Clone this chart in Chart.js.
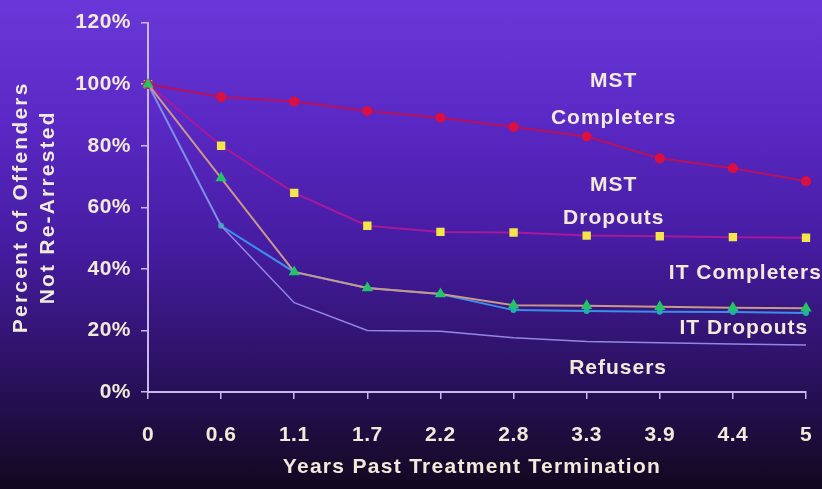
<!DOCTYPE html>
<html>
<head>
<meta charset="utf-8">
<script src="https://cdn.jsdelivr.net/npm/chart.js@4.4.1/dist/chart.umd.min.js"></script>
<style>
  html, body { margin: 0; padding: 0; }
  body {
    width: 822px; height: 489px; overflow: hidden;
    background: linear-gradient(to bottom, #6a38d8 0%, #5a28c4 25%, #461ca2 50%, #2c1264 75%, #12081f 100%);
  }
  #wrap { position: relative; width: 822px; height: 489px; }
</style>
</head>
<body>
<div id="wrap"><canvas id="c" width="822" height="489"></canvas></div>
<script>
const years = ['0', '0.6', '1.1', '1.7', '2.2', '2.8', '3.3', '3.9', '4.4', '5'];
const mstCompleters = [100, 95.8, 94.4, 91.3, 89.1, 86.1, 83.0, 75.9, 72.7, 68.5];
const mstDropouts   = [100, 80.0, 64.7, 54.0, 52.0, 51.8, 50.8, 50.6, 50.3, 50.1];
const itCompleters  = [100, 69.5, 39.0, 33.8, 31.8, 28.2, 28.0, 27.7, 27.4, 27.2];
const itDropouts    = [100, 54.0, 39.0, 33.8, 31.8, 26.6, 26.3, 26.1, 26.0, 25.7];
const refusers      = [100, 54.0, 29.0, 20.0, 19.7, 17.6, 16.4, 16.0, 15.6, 15.3];
const yTicks = [0, 20, 40, 60, 80, 100, 120];

const xTitle = 'Years Past Treatment Termination';
const yTitle = ['Percent of Offenders', 'Not Re-Arrested'];

// series label text, placed in data space (category index, percent)
const seriesLabels = [
  { text: 'MST',           xi: 6.37, y: 101.0 },
  { text: 'Completers',    xi: 6.37, y: 89.0 },
  { text: 'MST',           xi: 6.37, y: 67.2 },
  { text: 'Dropouts',      xi: 6.37, y: 56.6 },
  { text: 'IT Completers', xi: 8.17, y: 38.6 },
  { text: 'IT Dropouts',   xi: 8.15, y: 20.6 },
  { text: 'Refusers',      xi: 6.43, y: 7.7 }
];

const TXT = '#f2ead8';
const AXIS = '#c9b8ee';
const FONT = '"Liberation Sans", Arial, sans-serif';

const textPlugin = {
  id: 'textPlugin',
  beforeDraw(chart) { chart.ctx.letterSpacing = '0.5px'; },
  afterDatasetsDraw(chart) {
    const ctx = chart.ctx, xs = chart.scales.x, ys = chart.scales.y, ca = chart.chartArea;
    ctx.save();
    ctx.fillStyle = TXT;
    ctx.textAlign = 'center';
    ctx.textBaseline = 'middle';
    ctx.letterSpacing = '1px';
    ctx.font = 'bold 21px ' + FONT;
    seriesLabels.forEach(l => {
      ctx.fillText(l.text, xs.getPixelForValue(l.xi), ys.getPixelForValue(l.y));
    });
    // x axis title
    ctx.font = 'bold 21px ' + FONT;
    ctx.letterSpacing = '1.3px';
    ctx.fillText(xTitle, (ca.left + ca.right) / 2 - 5, 467);
    // y axis title
    ctx.font = 'bold 21px ' + FONT;
    ctx.letterSpacing = '2.2px';
    const cy = (ca.top + ca.bottom) / 2;
    [21, 48].forEach((x, i) => {
      ctx.save();
      ctx.translate(x, cy);
      ctx.rotate(-Math.PI / 2);
      ctx.fillText(yTitle[i], 0, 0);
      ctx.restore();
    });
    ctx.restore();
  }
};

new Chart(document.getElementById('c'), {
  type: 'line',
  data: {
    labels: years,
    datasets: [
      { label: 'MST Completers', data: mstCompleters, borderColor: '#b8105a', borderWidth: 2,
        pointStyle: 'circle', pointRadius: 4, pointBackgroundColor: '#dc1040', pointBorderColor: '#dc1040', order: 1 },
      { label: 'MST Dropouts', data: mstDropouts, borderColor: '#a8189a', borderWidth: 2,
        pointStyle: 'rect', pointRadius: 4.5, pointBackgroundColor: '#f2e64a', pointBorderColor: '#f2e64a', order: 2 },
      { label: 'IT Completers', data: itCompleters, borderColor: '#c8988a', borderWidth: 2,
        pointStyle: 'triangle', pointRadius: 4.5, pointBackgroundColor: '#22c468', pointBorderColor: '#22c468', order: 0 },
      { label: 'IT Dropouts', data: itDropouts, borderColor: '#3c8ee8', borderWidth: 2,
        pointStyle: 'circle', pointRadius: 2, pointBackgroundColor: '#20b0a8', pointBorderColor: '#20b0a8', order: 4 },
      { label: 'Refusers', data: refusers, borderColor: '#9486e6', borderWidth: 1.5,
        pointRadius: 0, order: 3 }
    ]
  },
  options: {
    responsive: false,
    animation: false,
    devicePixelRatio: 1,
    layout: { padding: { left: 0, right: 0, top: 8, bottom: 8 } },
    plugins: { legend: { display: false }, tooltip: { enabled: false } },
    elements: { line: { tension: 0 } },
    scales: {
      x: {
        type: 'category',
        offset: false,
        afterFit(scale) { scale.height = 89; scale.paddingRight = 16; },
        grid: { drawOnChartArea: false, drawTicks: true, tickLength: 7, color: AXIS, lineWidth: 1.5 },
        border: { color: AXIS, width: 2 },
        ticks: { color: TXT, font: { family: FONT, size: 21, weight: 'bold' }, padding: 24, maxRotation: 0, autoSkip: false }
      },
      y: {
        min: 0, max: 120,
        afterFit(scale) { scale.width = 148; },
        afterBuildTicks(scale) { scale.ticks = yTicks.map(v => ({ value: v })); },
        grid: { drawOnChartArea: false, drawTicks: true, tickLength: 7, color: AXIS, lineWidth: 1.5 },
        border: { color: AXIS, width: 2 },
        ticks: { color: TXT, font: { family: FONT, size: 21, weight: 'bold' }, padding: 10,
                 callback: v => v + '%' }
      }
    }
  },
  plugins: [textPlugin]
});
</script>
</body>
</html>
